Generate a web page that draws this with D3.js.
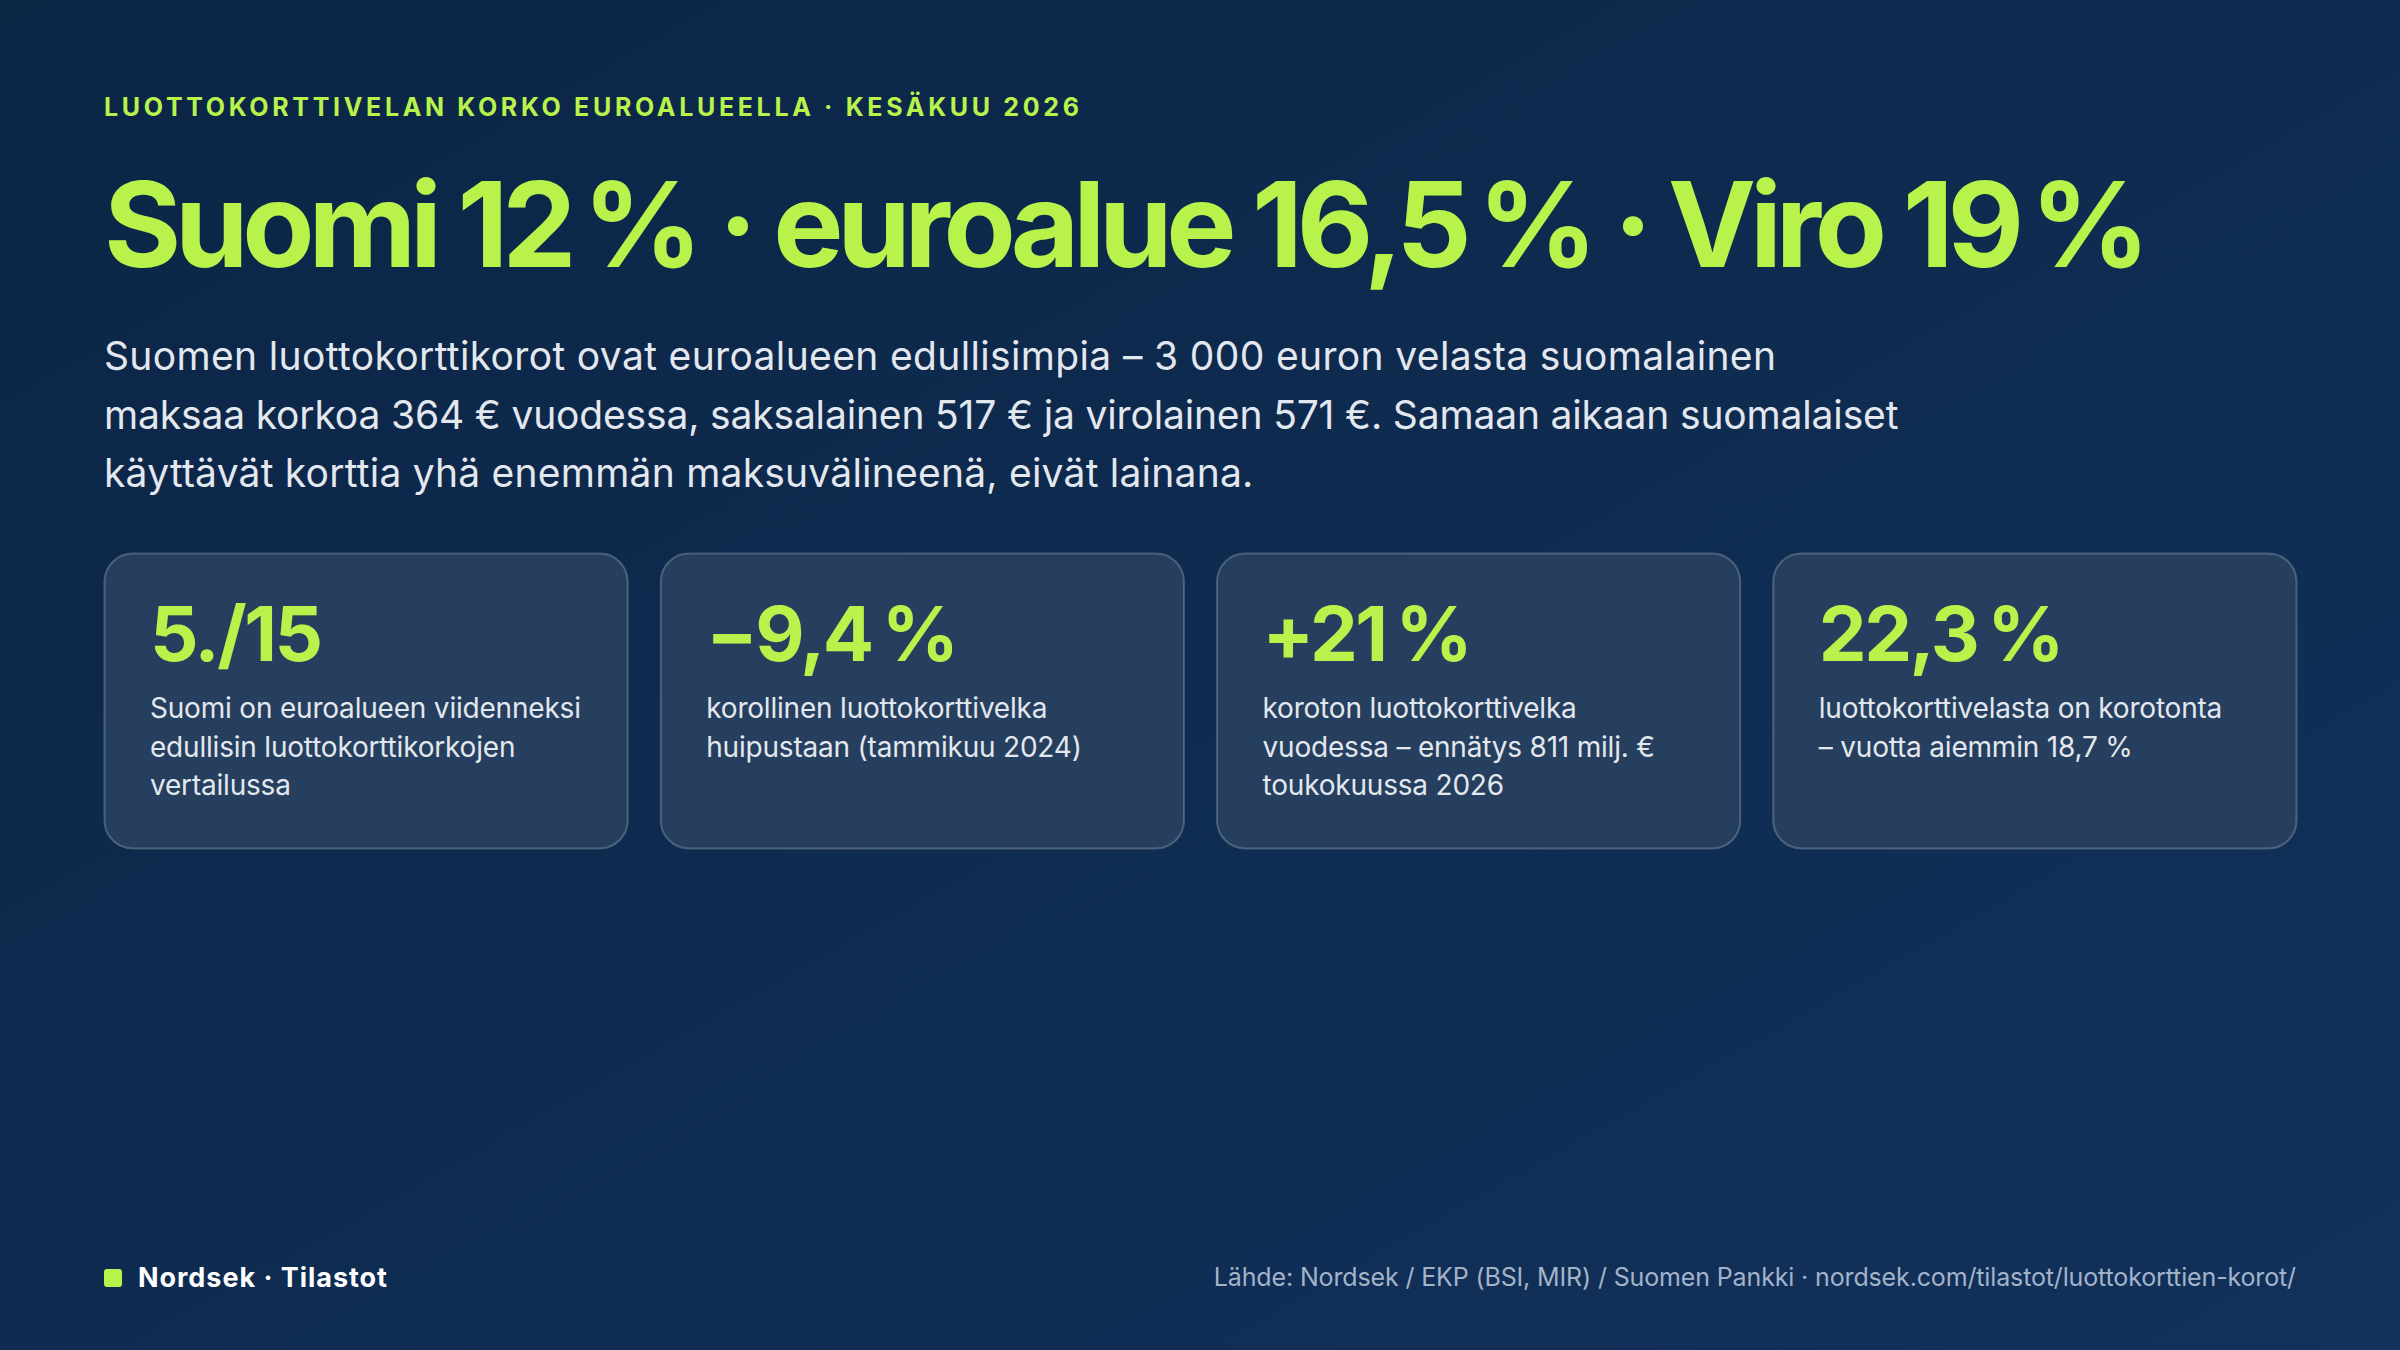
<!DOCTYPE html>
<html>
<head>
<meta charset="utf-8">
<script src="https://cdn.jsdelivr.net/npm/d3@7"></script>
<style>
  html, body { margin: 0; padding: 0; background: #0c2646; }
  svg { display: block; font-family: Inter, "Noto Sans", sans-serif; }
</style>
</head>
<body>
<div class="app"></div>
<script>
// data
const kicker = 'LUOTTOKORTTIVELAN KORKO EUROALUEELLA · KESÄKUU 2026'
const headline = 'Suomi 12\u202F% · euroalue 16,5\u202F% · Viro 19\u202F%'
const intro = [
  'Suomen luottokorttikorot ovat euroalueen edullisimpia – 3 000 euron velasta suomalainen',
  'maksaa korkoa 364 € vuodessa, saksalainen 517 € ja virolainen 571 €. Samaan aikaan suomalaiset',
  'käyttävät korttia yhä enemmän maksuvälineenä, eivät lainana.'
]
const cardValues = ['5./15', '−9,4', '+21', '22,3']
const cardUnits = ['', '%', '%', '%']
const cardLabels = [
  ['Suomi on euroalueen viidenneksi', 'edullisin luottokorttikorkojen', 'vertailussa'],
  ['korollinen luottokorttivelka', 'huipustaan (tammikuu 2024)'],
  ['koroton luottokorttivelka', 'vuodessa – ennätys 811 milj. €', 'toukokuussa 2026'],
  ['luottokorttivelasta on korotonta', '– vuotta aiemmin 18,7 %']
]
const brand = 'Nordsek · Tilastot'
const source = 'Lähde: Nordsek / EKP (BSI, MIR) / Suomen Pankki · nordsek.com/tilastot/luottokorttien-korot/'

const W = 2400, H = 1350
const green = '#b8f24b'
const left = 104, right = 2296

const svg = d3.select('.app').append('svg').attr('width', W).attr('height', H)

const defs = svg.append('defs')
const grad = defs.append('linearGradient').attr('id', 'bg')
  .attr('x1', 0).attr('y1', 0).attr('x2', 1).attr('y2', 1)
grad.append('stop').attr('offset', '0%').attr('stop-color', '#0b2545')
grad.append('stop').attr('offset', '100%').attr('stop-color', '#12315b')
svg.append('rect').attr('width', W).attr('height', H).attr('fill', 'url(#bg)')

// squeeze / stretch letter spacing so a text hits the width seen in the picture
const fit = (sel, target) => {
  const node = sel.node()
  const n = sel.text().length
  const w = node.getComputedTextLength()
  const ls = (target - w) / (n - 1)
  sel.attr('letter-spacing', ls.toFixed(2))
}

const k = svg.append('text').attr('x', left).attr('y', 116)
  .attr('fill', green).attr('font-size', 25).attr('font-weight', 700)
  .text(kicker)
fit(k, 975)

const h = svg.append('text').attr('x', left).attr('y', 267)
  .attr('fill', green).attr('font-size', 118).attr('font-weight', 700)
  .text(headline)
fit(h, 2046)

const introWidths = [1672, 1794, 1149]
svg.append('g').selectAll('text').data(intro).join('text')
  .attr('x', left)
  .attr('y', (d, i) => 370 + i * 58.5)
  .attr('fill', '#e3e7ee').attr('font-size', 39)
  .text(d => d)
  .each(function (d, i) { fit(d3.select(this), introWidths[i]) })

// cards
const x = d3.scaleBand().domain(d3.range(cardValues.length))
  .range([left, right]).paddingInner(0.0594).paddingOuter(0)
const cardTop = 553, cardH = 295

const cards = svg.append('g').selectAll('g').data(cardValues).join('g')
  .attr('transform', (d, i) => `translate(${x(i)},${cardTop})`)

cards.append('rect')
  .attr('x', 0.5).attr('y', 0.5)
  .attr('width', x.bandwidth()).attr('height', cardH)
  .attr('rx', 28)
  .attr('fill', '#263f5f')
  .attr('stroke', 'rgba(255,255,255,0.22)').attr('stroke-width', 2)

const val = cards.append('text')
  .attr('x', 46).attr('y', 108)
  .attr('fill', green).attr('font-size', 76).attr('font-weight', 700)
  .attr('letter-spacing', -2.5)
val.append('tspan').text(d => d)
val.append('tspan').attr('dx', (d, i) => cardUnits[i] ? 10 : 0).text((d, i) => cardUnits[i])

cards.each(function (d, i) {
  d3.select(this).selectAll('.lbl').data(cardLabels[i]).join('text')
    .attr('class', 'lbl')
    .attr('x', 46)
    .attr('y', (t, j) => 165 + j * 38.5)
    .attr('fill', '#e3e7ee').attr('font-size', 28)
    .attr('letter-spacing', -0.2)
    .text(t => t)
})

// footer
svg.append('rect').attr('x', left).attr('y', 1269).attr('width', 18).attr('height', 18)
  .attr('rx', 3).attr('fill', green)
const b = svg.append('text').attr('x', 138).attr('y', 1287)
  .attr('fill', '#ffffff').attr('font-size', 27).attr('font-weight', 700)
  .text(brand)
fit(b, 249)

const s = svg.append('text').attr('x', right).attr('y', 1286)
  .attr('text-anchor', 'end')
  .attr('fill', '#a3b3c9').attr('font-size', 25)
  .text(source)
fit(s, 1082)
</script>
</body>
</html>
